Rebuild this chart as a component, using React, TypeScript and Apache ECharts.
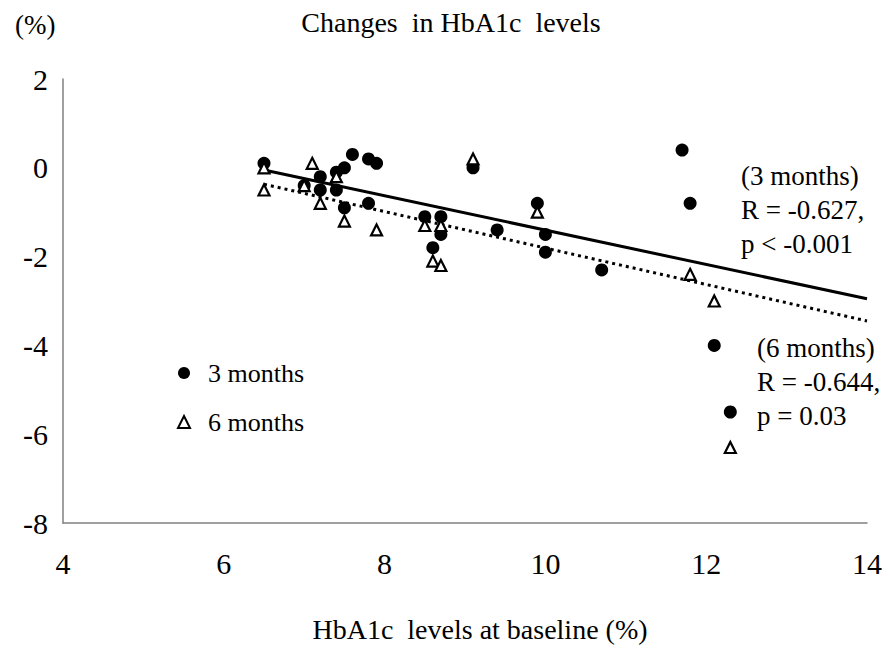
import React, { useEffect, useRef } from "react";
import * as echarts from "echarts";

const months3X = [6.5, 7.0, 7.2, 7.2, 7.4, 7.4, 7.5, 7.5, 7.6, 7.8, 7.9, 7.8, 8.5, 8.7, 8.7, 8.6, 9.1, 9.4, 9.9, 10.0, 10.0, 10.7, 11.7, 11.8, 12.1, 12.3];
const months3Y = [0.1, -0.4, -0.2, -0.5, -0.1, -0.5, 0.0, -0.9, 0.3, 0.2, 0.1, -0.8, -1.1, -1.1, -1.5, -1.8, 0.0, -1.4, -0.8, -1.5, -1.9, -2.3, 0.4, -0.8, -4.0, -5.5];

const months6X = [6.5, 6.5, 7.0, 7.1, 7.2, 7.4, 7.5, 7.9, 8.5, 8.7, 8.6, 8.7, 9.1, 9.9, 11.8, 12.1, 12.3];
const months6Y = [0.0, -0.5, -0.4, 0.1, -0.8, -0.2, -1.2, -1.4, -1.3, -1.3, -2.1, -2.2, 0.2, -1.0, -2.4, -3.0, -6.3];

const trendX = [6.5, 14];
const trend3Y = [-0.05, -2.95];
const trend6Y = [-0.37, -3.45];

const xTicks = [4, 6, 8, 10, 12, 14];
const yTicks = [-8, -6, -4, -2, 0, 2];

const FONT = "'Liberation Serif', 'Times New Roman', serif";

export default function App() {
  const ref = useRef<HTMLDivElement>(null);
  useEffect(() => {
    if (!ref.current) return;
    const chart = echarts.init(ref.current, undefined, { renderer: "svg" });
    const pairs = (xs: number[], ys: number[]) => xs.map((x, i) => [x, ys[i]]);
    chart.setOption({
      animation: false,
      backgroundColor: "#ffffff",
      textStyle: { fontFamily: FONT, color: "#000" },
      title: {
        text: "Changes  in HbA1c  levels",
        left: 443,
        textAlign: "center",
        top: 0,
        padding: 0,
        textStyle: { fontFamily: FONT, fontSize: 28, fontWeight: "normal", color: "#000" },
      },
      grid: { left: 55, right: 17, top: 71, bottom: 115, containLabel: false },
      legend: {
        orient: "vertical",
        left: 164,
        top: 347,
        itemGap: 23,
        itemWidth: 12,
        itemHeight: 12,
        data: ["3 months", "6 months"],
        textStyle: { fontFamily: FONT, fontSize: 26, color: "#000", padding: [0, 0, 0, 13] },
      },
      xAxis: {
        type: "value",
        min: xTicks[0],
        max: xTicks[xTicks.length - 1],
        interval: 2,
        name: "HbA1c  levels at baseline (%)",
        nameLocation: "middle",
        nameGap: 92,
        nameTextStyle: { fontFamily: FONT, fontSize: 28, color: "#000", padding: [0, 0, 0, 30] },
        axisLine: { onZero: false, lineStyle: { color: "#808080", width: 1.5 } },
        axisTick: { show: false },
        splitLine: { show: false },
        axisLabel: { fontFamily: FONT, fontSize: 30, color: "#000", margin: 25 },
      },
      yAxis: {
        type: "value",
        min: yTicks[0],
        max: yTicks[yTicks.length - 1],
        interval: 2,
        axisLine: { show: true, onZero: false, lineStyle: { color: "#808080", width: 1.5 } },
        axisTick: { show: false },
        splitLine: { show: false },
        axisLabel: { fontFamily: FONT, fontSize: 30, color: "#000", margin: 15 },
      },
      series: [
        {
          name: "3 months",
          type: "scatter",
          symbol: "circle",
          symbolSize: 13,
          itemStyle: { color: "#000", opacity: 1 },
          data: pairs(months3X, months3Y),
          z: 3,
        },
        {
          name: "6 months",
          type: "scatter",
          symbol: "triangle",
          symbolSize: 11,
          itemStyle: { color: "#fff", borderColor: "#000", borderWidth: 2.2, opacity: 1 },
          data: pairs(months6X, months6Y),
          z: 4,
        },
        {
          name: "trend3",
          type: "line",
          symbol: "none",
          silent: true,
          lineStyle: { color: "#000", width: 3 },
          data: pairs(trendX, trend3Y),
          z: 2,
        },
        {
          name: "trend6",
          type: "line",
          symbol: "none",
          silent: true,
          lineStyle: { color: "#000", width: 3, type: [3, 4] },
          data: pairs(trendX, trend6Y),
          z: 2,
        },
      ],
      graphic: [
        {
          type: "text",
          left: 7,
          top: 3,
          style: { text: "(%)", font: `27px ${FONT}`, fill: "#000" },
        },
        {
          type: "text",
          left: 733,
          top: 151,
          style: {
            text: "(3 months)\nR = -0.627,\np < -0.001",
            font: `27px ${FONT}`,
            lineHeight: 34,
            fill: "#000",
          },
        },
        {
          type: "text",
          left: 749,
          top: 323,
          style: {
            text: "(6 months)\nR = -0.644,\np = 0.03",
            font: `27px ${FONT}`,
            lineHeight: 34,
            fill: "#000",
          },
        },
      ],
    });
    return () => chart.dispose();
  }, []);
  return <div ref={ref} style={{ width: 877, height: 640 }} />;
}
